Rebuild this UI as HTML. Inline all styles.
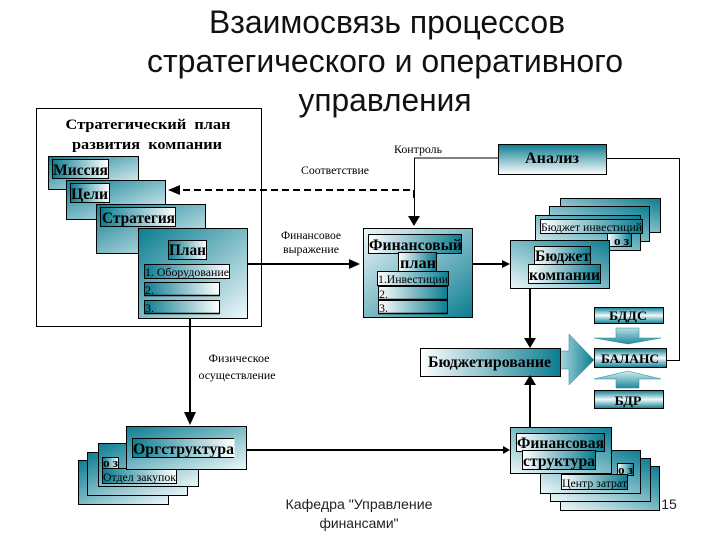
<!DOCTYPE html>
<html lang="ru"><head><meta charset="utf-8"><style>
html,body{margin:0;padding:0;background:#fff}
svg{display:block}
.t{font-family:"Liberation Sans",sans-serif;fill:#111;font-size:32px}
.f{font-family:"Liberation Sans",sans-serif;fill:#222;font-size:14px}
.s{font-family:"Liberation Serif",serif;fill:#000;font-size:12px}
.b{font-family:"Liberation Serif",serif;fill:#000;font-weight:bold;font-size:16px}
.m{font-size:14.5px}
.x{font-size:13px}
.l{font-family:"Liberation Serif",serif;fill:#000;font-size:12px}
.box{stroke:#000;stroke-width:1}
</style></head><body>
<svg width="720" height="540" viewBox="0 0 720 540" xmlns="http://www.w3.org/2000/svg">
<defs>
<linearGradient id="tl" x1="0" y1="0" x2="1" y2="1"><stop offset="0" stop-color="#0b7d91"/><stop offset="1" stop-color="#eef8fa"/></linearGradient>
<linearGradient id="br" x1="0" y1="0" x2="1" y2="1"><stop offset="0" stop-color="#eef8fa"/><stop offset="1" stop-color="#0b7d91"/></linearGradient>
<linearGradient id="tr" x1="0" y1="1" x2="1" y2="0"><stop offset="0" stop-color="#eef8fa"/><stop offset="1" stop-color="#0b7d91"/></linearGradient>
<linearGradient id="h" x1="0" y1="0" x2="1" y2="0"><stop offset="0" stop-color="#fff"/><stop offset="1" stop-color="#0b7d91"/></linearGradient>
<linearGradient id="hr" x1="0" y1="0" x2="1" y2="0"><stop offset="0" stop-color="#0b7d91"/><stop offset="1" stop-color="#fff"/></linearGradient>
<linearGradient id="v" x1="0" y1="0" x2="0" y2="1"><stop offset="0" stop-color="#0b7d91"/><stop offset="1" stop-color="#fff"/></linearGradient>
<linearGradient id="vm" x1="0" y1="0" x2="0" y2="1"><stop offset="0" stop-color="#0b7d91"/><stop offset=".5" stop-color="#f2fafb"/><stop offset="1" stop-color="#0b7d91"/></linearGradient>
<linearGradient id="ar" x1="0" y1="0" x2="1" y2="0"><stop offset="0" stop-color="#a8d6dd"/><stop offset="1" stop-color="#0b7d91"/></linearGradient>
<linearGradient id="ad" x1="0" y1="0" x2="0" y2="1"><stop offset="0" stop-color="#b8dfe5"/><stop offset="1" stop-color="#1f8a9c"/></linearGradient>
<linearGradient id="au" x1="0" y1="1" x2="0" y2="0"><stop offset="0" stop-color="#1f8a9c"/><stop offset="1" stop-color="#d8eef1"/></linearGradient>
</defs>

<text class="t" x="387" y="33" text-anchor="middle" textLength="356" lengthAdjust="spacingAndGlyphs">Взаимосвязь процессов</text>
<text class="t" x="385" y="72" text-anchor="middle" textLength="476" lengthAdjust="spacingAndGlyphs">стратегического и оперативного</text>
<text class="t" x="385" y="111" text-anchor="middle" textLength="173" lengthAdjust="spacingAndGlyphs">управления</text>

<rect x="36.5" y="108.5" width="225" height="218" fill="#fff" stroke="#000"/>
<text class="b m" x="148" y="129" text-anchor="middle" textLength="165" lengthAdjust="spacingAndGlyphs" xml:space="preserve">Стратегический  план</text>
<text class="b m" x="147" y="149" text-anchor="middle" textLength="150" lengthAdjust="spacingAndGlyphs" xml:space="preserve">развития  компании</text>

<rect class="box" x="48.5" y="156.5" width="90" height="33" fill="url(#tl)"/>
<rect class="box" x="52.5" y="159.5" width="56" height="19" fill="url(#hr)"/>
<text class="b" x="53" y="175" textLength="55" lengthAdjust="spacingAndGlyphs">Миссия</text>
<rect class="box" x="66.5" y="180.5" width="99" height="39" fill="url(#tl)"/>
<rect class="box" x="70.5" y="183.5" width="39" height="19" fill="url(#hr)"/>
<text class="b" x="71" y="199" textLength="37" lengthAdjust="spacingAndGlyphs">Цели</text>
<rect class="box" x="96.5" y="204.5" width="109" height="49" fill="url(#tl)"/>
<rect class="box" x="100.5" y="207.5" width="75" height="19" fill="url(#hr)"/>
<text class="b" x="102" y="223" textLength="73" lengthAdjust="spacingAndGlyphs">Стратегия</text>
<rect class="box" x="138.5" y="228.5" width="109" height="90" fill="url(#tl)"/>
<rect class="box" x="168.5" y="240.5" width="38" height="19" fill="url(#hr)"/>
<text class="b" x="169" y="255" textLength="37" lengthAdjust="spacingAndGlyphs">План</text>
<rect class="box" x="144.5" y="264.5" width="85" height="14" fill="url(#hr)"/>
<text class="l" x="145" y="276" textLength="84" lengthAdjust="spacingAndGlyphs">1. Оборудование</text>
<rect class="box" x="144.5" y="282.5" width="75" height="13" fill="url(#hr)"/>
<line x1="144" y1="295.5" x2="220" y2="295.5" stroke="#000" stroke-width="1.5"/>
<text class="l" x="145" y="294">2.</text>
<rect class="box" x="144.5" y="300.5" width="75" height="13" fill="url(#hr)"/>
<line x1="144" y1="313.5" x2="220" y2="313.5" stroke="#000" stroke-width="1.5"/>
<text class="l" x="145" y="312">3.</text>

<line x1="172" y1="190" x2="414" y2="190" stroke="#000" stroke-width="2" stroke-dasharray="7 4"/>
<polygon points="168,190 180,185 180,195" fill="#000"/>
<text class="s" x="301" y="174" textLength="68" lengthAdjust="spacingAndGlyphs">Соответствие</text>
<text class="s" x="394" y="153" textLength="48" lengthAdjust="spacingAndGlyphs">Контроль</text>
<polyline points="498,158 414.5,158 414.5,218" fill="none" stroke="#000" stroke-width="1"/>
<line x1="414" y1="190" x2="414" y2="198" stroke="#000" stroke-width="2"/>
<polygon points="408,216 420,216 414,226" fill="#000"/>
<rect class="box" x="498.5" y="144.5" width="108" height="30" fill="url(#v)"/>
<text class="b" x="552" y="163" text-anchor="middle" textLength="54" lengthAdjust="spacingAndGlyphs">Анализ</text>
<polyline points="607,158.5 679.5,158.5 679.5,360.5 667,360.5" fill="none" stroke="#000" stroke-width="1"/>

<text class="s" x="311" y="239" text-anchor="middle" textLength="60" lengthAdjust="spacingAndGlyphs">Финансовое</text>
<text class="s" x="311" y="253" text-anchor="middle" textLength="56" lengthAdjust="spacingAndGlyphs">выражение</text>
<line x1="248" y1="264" x2="352" y2="264" stroke="#000" stroke-width="2"/>
<polygon points="360,264 349,259 349,269" fill="#000"/>

<rect class="box" x="363.5" y="228.5" width="109" height="89" fill="url(#br)"/>
<rect class="box" x="368.5" y="234.5" width="93" height="19" fill="url(#h)"/>
<text class="b" x="369" y="250" textLength="93" lengthAdjust="spacingAndGlyphs">Финансовый</text>
<rect class="box" x="398.5" y="252.5" width="38" height="19" fill="url(#h)"/>
<text class="b" x="400" y="268" textLength="36" lengthAdjust="spacingAndGlyphs">план</text>
<rect class="box" x="377.5" y="271.5" width="71" height="14" fill="url(#h)"/>
<text class="l" x="378" y="283" textLength="70" lengthAdjust="spacingAndGlyphs">1.Инвестиции</text>
<rect class="box" x="378.5" y="286.5" width="69" height="13" fill="url(#h)"/>
<line x1="378" y1="299.5" x2="448" y2="299.5" stroke="#000" stroke-width="1.5"/>
<text class="l" x="379" y="298">2.</text>
<rect class="box" x="378.5" y="300.5" width="69" height="13" fill="url(#h)"/>
<line x1="378" y1="313.5" x2="448" y2="313.5" stroke="#000" stroke-width="1.5"/>
<text class="l" x="379" y="312">3.</text>

<line x1="472" y1="264" x2="504" y2="264" stroke="#000" stroke-width="2"/>
<polygon points="510,264 502,260 502,268" fill="#000"/>

<rect class="box" x="560.5" y="198.5" width="100" height="34" fill="url(#tr)"/>
<rect class="box" x="549.5" y="206.5" width="100" height="35" fill="url(#tr)"/>
<rect class="box" x="535.5" y="215.5" width="105" height="35" fill="url(#tr)"/>
<rect class="box" x="540.5" y="219.5" width="102" height="14" fill="url(#h)"/>
<text class="l" x="541" y="231" textLength="101" lengthAdjust="spacingAndGlyphs">Бюджет инвестиций</text>
<rect class="box" x="607.5" y="233.5" width="24" height="13" fill="url(#h)"/>
<text class="b x" x="614" y="245" textLength="15" lengthAdjust="spacingAndGlyphs">о з</text>
<rect class="box" x="510.5" y="240.5" width="99" height="48" fill="url(#tr)"/>
<rect class="box" x="534.5" y="246.5" width="56" height="18" fill="url(#h)"/>
<text class="b" x="535" y="261" textLength="55" lengthAdjust="spacingAndGlyphs">Бюджет</text>
<rect class="box" x="528.5" y="264.5" width="72" height="19" fill="url(#h)"/>
<text class="b" x="529" y="280" textLength="71" lengthAdjust="spacingAndGlyphs">компании</text>

<line x1="530" y1="288" x2="530" y2="340" stroke="#000" stroke-width="2"/>
<polygon points="524,338 536,338 530,348" fill="#000"/>

<polygon points="560,351 569,351 569,334 594,360 569,385 569,369 560,369" fill="url(#ar)" stroke="#1f8a9c" stroke-width=".5"/>
<rect class="box" x="420.5" y="348.5" width="140" height="28" fill="url(#h)"/>
<text class="b" x="428" y="367" textLength="123" lengthAdjust="spacingAndGlyphs">Бюджетирование</text>

<rect class="box" x="594.5" y="307.5" width="69" height="16" fill="url(#vm)"/>
<text class="b x" x="628" y="320" text-anchor="middle" textLength="38" lengthAdjust="spacingAndGlyphs">БДДС</text>
<polygon points="616,328 639,328 639,338 661,338 628,344 594,338 616,338" fill="url(#ad)" stroke="#1f8a9c" stroke-width=".5"/>
<rect class="box" x="594.5" y="348.5" width="72" height="19" fill="url(#vm)"/>
<text class="b x" x="630" y="363" text-anchor="middle" textLength="58" lengthAdjust="spacingAndGlyphs">БАЛАНС</text>
<polygon points="628,371 661,379 639,379 639,388 616,388 616,379 594,379" fill="url(#au)" stroke="#1f8a9c" stroke-width=".5"/>
<rect class="box" x="594.5" y="390.5" width="69" height="18" fill="url(#vm)"/>
<text class="b x" x="628" y="405" text-anchor="middle" textLength="27" lengthAdjust="spacingAndGlyphs">БДР</text>

<line x1="190" y1="318" x2="190" y2="415" stroke="#000" stroke-width="2"/>
<polygon points="184,412 196,412 190,425" fill="#000"/>
<text class="s" x="239" y="362" text-anchor="middle" textLength="61" lengthAdjust="spacingAndGlyphs">Физическое</text>
<text class="s" x="237" y="379" text-anchor="middle" textLength="77" lengthAdjust="spacingAndGlyphs">осуществление</text>

<rect class="box" x="78.5" y="460.5" width="90" height="44" fill="url(#tl)"/>
<rect class="box" x="87.5" y="452.5" width="100" height="43" fill="url(#tl)"/>
<rect class="box" x="98.5" y="443.5" width="100" height="43" fill="url(#tl)"/>
<rect class="box" x="102.5" y="457.5" width="16" height="11" fill="url(#hr)"/>
<text class="b x" x="103" y="467" textLength="15" lengthAdjust="spacingAndGlyphs">о з</text>
<rect class="box" x="102.5" y="468.5" width="74" height="15" fill="url(#hr)"/>
<text class="l" x="103" y="481" textLength="73" lengthAdjust="spacingAndGlyphs">Отдел закупок</text>
<rect class="box" x="126.5" y="426.5" width="120" height="43" fill="url(#tl)"/>
<rect x="132.5" y="438.5" width="102" height="19" fill="url(#hr)"/>
<line x1="132" y1="438.5" x2="234" y2="438.5" stroke="#000"/>
<line x1="132" y1="457.5" x2="234" y2="457.5" stroke="#000"/>
<line x1="132.5" y1="438" x2="132.5" y2="458" stroke="#000"/>
<text class="b" x="133" y="454" textLength="101" lengthAdjust="spacingAndGlyphs">Оргструктура</text>

<line x1="246" y1="450" x2="505" y2="450" stroke="#000" stroke-width="2"/>
<polygon points="510,450 503,446 503,454" fill="#000"/>
<line x1="530" y1="380" x2="530" y2="427" stroke="#000" stroke-width="2"/>
<polygon points="530,375 536,385 524,385" fill="#000"/>

<rect class="box" x="560.5" y="466.5" width="99" height="44" fill="url(#tr)"/>
<rect class="box" x="550.5" y="458.5" width="100" height="43" fill="url(#tr)"/>
<rect class="box" x="540.5" y="450.5" width="100" height="43" fill="url(#tr)"/>
<rect class="box" x="617.5" y="463.5" width="16" height="12" fill="url(#h)"/>
<text class="b x" x="618" y="474" textLength="15" lengthAdjust="spacingAndGlyphs">о з</text>
<rect class="box" x="561.5" y="474.5" width="66" height="15" fill="url(#h)"/>
<text class="l" x="562" y="487" textLength="65" lengthAdjust="spacingAndGlyphs">Центр затрат</text>
<rect class="box" x="510.5" y="427.5" width="101" height="46" fill="url(#tr)"/>
<rect class="box" x="516.5" y="433.5" width="88" height="18" fill="url(#h)"/>
<text class="b" x="517" y="448" textLength="87" lengthAdjust="spacingAndGlyphs">Финансовая</text>
<rect class="box" x="522.5" y="450.5" width="73" height="19" fill="url(#h)"/>
<text class="b" x="523" y="466" textLength="72" lengthAdjust="spacingAndGlyphs">структура</text>

<text class="f" x="359" y="509" text-anchor="middle" textLength="147" lengthAdjust="spacingAndGlyphs">Кафедра "Управление</text>
<text class="f" x="359" y="528" text-anchor="middle" textLength="79" lengthAdjust="spacingAndGlyphs">финансами"</text>
<text class="f" x="669" y="509" text-anchor="middle">15</text>
</svg>
</body></html>
